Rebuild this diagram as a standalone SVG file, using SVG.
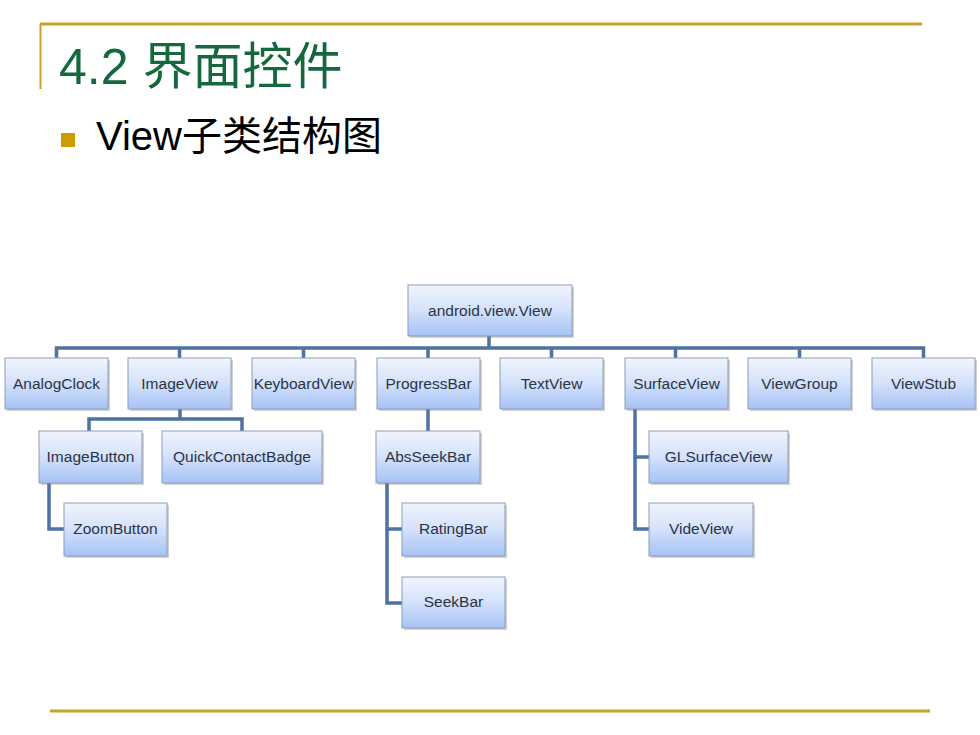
<svg xmlns="http://www.w3.org/2000/svg" width="980" height="735" viewBox="0 0 980 735">
<defs>
<linearGradient id="boxg" x1="0" y1="0" x2="0" y2="1">
<stop offset="0" stop-color="#f1f5fd"/>
<stop offset="0.5" stop-color="#d3e1fb"/>
<stop offset="1" stop-color="#a6c2f5"/>
</linearGradient>
<style>
.box{fill:url(#boxg);stroke:#8c9db6;stroke-width:1}
.sh{fill:#7a7a7a;opacity:0.35}
.lbl{font-family:"Liberation Sans",Arial,sans-serif;font-size:15.5px;fill:#2b3442;text-anchor:middle}
.conn{fill:none;stroke:#4d72a3;stroke-width:3.5;stroke-linejoin:miter}
.rule{stroke:#c9a227;stroke-width:3}
</style>
</defs>
<rect width="980" height="735" fill="#ffffff"/>
<g id="frame">
<line class="rule" x1="40" y1="24" x2="922" y2="24"/>
<line x1="40.5" y1="24" x2="40.5" y2="89" stroke="#c9a227" stroke-width="2"/>
<line class="rule" x1="50" y1="711" x2="930" y2="711"/>
</g>
<g id="title">
<text x="59" y="84" font-family="'Liberation Sans','Noto Sans CJK SC',sans-serif" font-size="50" fill="#13683c">4.2 界面控件</text>
</g>
<g id="subtitle">
<rect x="61" y="133" width="14" height="14" fill="#cc9c00"/>
<text x="96" y="150" font-family="'Liberation Sans','Noto Sans CJK SC',sans-serif" font-size="40" fill="#000000">View子类结构图</text>
</g>
<g id="connectors">
<path class="conn" d="M489 336 V348"/>
<path class="conn" d="M56.5 358 V348 H923.5 V358"/>
<path class="conn" d="M179.5 348 V358 M303.5 348 V358 M428 348 V358 M551.5 348 V358 M675.5 348 V358 M799.5 348 V358"/>
<path class="conn" d="M180 409 V419 M89 431 V419 H242 V431"/>
<path class="conn" d="M49 483 V529 H64"/>
<path class="conn" d="M428 409 V431"/>
<path class="conn" d="M387 483 V603 H402 M387 529 H402"/>
<path class="conn" d="M635 409 V529 H649 M635 457 H649"/>
</g>
<g id="n-root"><rect class="sh" x="410" y="287" width="164" height="51"/><rect class="box" x="408" y="285" width="164" height="51"/><text class="lbl" x="490" y="316">android.view.View</text></g>
<g id="n-analogclock"><rect class="sh" x="7" y="360" width="103" height="51"/><rect class="box" x="5" y="358" width="103" height="51"/><text class="lbl" x="56.5" y="389">AnalogClock</text></g>
<g id="n-imageview"><rect class="sh" x="130" y="360" width="103" height="51"/><rect class="box" x="128" y="358" width="103" height="51"/><text class="lbl" x="179.5" y="389">ImageView</text></g>
<g id="n-keyboardview"><rect class="sh" x="254" y="360" width="103" height="51"/><rect class="box" x="252" y="358" width="103" height="51"/><text class="lbl" x="303.5" y="389">KeyboardView</text></g>
<g id="n-progressbar"><rect class="sh" x="379" y="360" width="103" height="51"/><rect class="box" x="377" y="358" width="103" height="51"/><text class="lbl" x="428.5" y="389">ProgressBar</text></g>
<g id="n-textview"><rect class="sh" x="502" y="360" width="103" height="51"/><rect class="box" x="500" y="358" width="103" height="51"/><text class="lbl" x="551.5" y="389">TextView</text></g>
<g id="n-surfaceview"><rect class="sh" x="627" y="360" width="103" height="51"/><rect class="box" x="625" y="358" width="103" height="51"/><text class="lbl" x="676.5" y="389">SurfaceView</text></g>
<g id="n-viewgroup"><rect class="sh" x="750" y="360" width="103" height="51"/><rect class="box" x="748" y="358" width="103" height="51"/><text class="lbl" x="799.5" y="389">ViewGroup</text></g>
<g id="n-viewstub"><rect class="sh" x="874" y="360" width="103" height="51"/><rect class="box" x="872" y="358" width="103" height="51"/><text class="lbl" x="923.5" y="389">ViewStub</text></g>
<g id="n-imagebutton"><rect class="sh" x="41" y="433" width="103" height="52"/><rect class="box" x="39" y="431" width="103" height="52"/><text class="lbl" x="90.5" y="462">ImageButton</text></g>
<g id="n-quickcontactbadge"><rect class="sh" x="164" y="433" width="160" height="52"/><rect class="box" x="162" y="431" width="160" height="52"/><text class="lbl" x="242" y="462">QuickContactBadge</text></g>
<g id="n-absseekbar"><rect class="sh" x="378" y="433" width="104" height="52"/><rect class="box" x="376" y="431" width="104" height="52"/><text class="lbl" x="428" y="462">AbsSeekBar</text></g>
<g id="n-glsurfaceview"><rect class="sh" x="651" y="433" width="139" height="52"/><rect class="box" x="649" y="431" width="139" height="52"/><text class="lbl" x="718.5" y="462">GLSurfaceView</text></g>
<g id="n-zoombutton"><rect class="sh" x="66" y="505" width="103" height="53"/><rect class="box" x="64" y="503" width="103" height="53"/><text class="lbl" x="115.5" y="534">ZoomButton</text></g>
<g id="n-ratingbar"><rect class="sh" x="404" y="505" width="103" height="53"/><rect class="box" x="402" y="503" width="103" height="53"/><text class="lbl" x="453.5" y="534">RatingBar</text></g>
<g id="n-videview"><rect class="sh" x="651" y="505" width="104" height="53"/><rect class="box" x="649" y="503" width="104" height="53"/><text class="lbl" x="701" y="534">VideView</text></g>
<g id="n-seekbar"><rect class="sh" x="404" y="579" width="103" height="51"/><rect class="box" x="402" y="577" width="103" height="51"/><text class="lbl" x="453.5" y="607">SeekBar</text></g>
</svg>
